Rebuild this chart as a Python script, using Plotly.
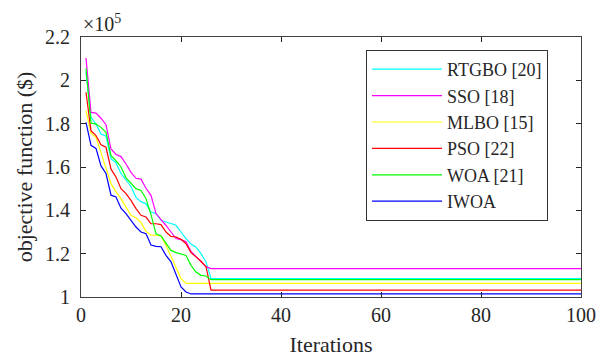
import plotly.graph_objects as go

# Iterations at which values were read (curves are flat after ~26)
iterations = list(range(1, 27)) + [100]

# Objective function values in units of 1e5 $
rtgbo = [2.04, 1.829, 1.798, 1.752, 1.742, 1.637, 1.62, 1.57, 1.54, 1.51, 1.46, 1.44, 1.43,
         1.392, 1.385, 1.354, 1.346, 1.34, 1.331, 1.30, 1.269, 1.245, 1.23, 1.20, 1.162, 1.085, 1.085]
sso = [2.103, 1.852, 1.849, 1.825, 1.795, 1.683, 1.658, 1.648, 1.614, 1.575, 1.548, 1.544, 1.502,
       1.469, 1.385, 1.36, 1.33, 1.30, 1.27, 1.265, 1.255, 1.21, 1.185, 1.165, 1.14, 1.131, 1.131]
mlbo = [1.86, 1.755, 1.737, 1.668, 1.59, 1.523, 1.485, 1.454, 1.415, 1.377, 1.366, 1.343, 1.303,
        1.285, 1.285, 1.282, 1.238, 1.189, 1.138, 1.085, 1.063, 1.063, 1.063, 1.063, 1.063, 1.063, 1.063]
pso = [1.945, 1.768, 1.745, 1.702, 1.691, 1.59, 1.554, 1.50, 1.477, 1.446, 1.408, 1.377, 1.369,
       1.338, 1.338, 1.334, 1.30, 1.28, 1.277, 1.266, 1.246, 1.205, 1.185, 1.165, 1.14, 1.032, 1.032]
woa = [2.055, 1.803, 1.798, 1.783, 1.76, 1.652, 1.629, 1.60, 1.55, 1.525, 1.50, 1.492, 1.454,
       1.38, 1.292, 1.282, 1.246, 1.215, 1.205, 1.20, 1.192, 1.146, 1.115, 1.10, 1.097, 1.08, 1.08]
iwoa = [1.806, 1.70, 1.686, 1.605, 1.57, 1.47, 1.462, 1.41, 1.385, 1.354, 1.323, 1.30, 1.292,
        1.24, 1.234, 1.232, 1.192, 1.162, 1.10, 1.046, 1.023, 1.014, 1.014, 1.014, 1.014, 1.014, 1.014]

series_names = ["RTGBO [20]", "SSO [18]", "MLBO [15]", "PSO [22]", "WOA [21]", "IWOA"]
series_values = [rtgbo, sso, mlbo, pso, woa, iwoa]
series_colors = ["#00FFFF", "#FF00FF", "#FFFF00", "#FF0000", "#00FF00", "#0000FF"]

x_ticks = [0, 20, 40, 60, 80, 100]
y_ticks = [1, 1.2, 1.4, 1.6, 1.8, 2, 2.2]
y_tick_labels = ["1", "1.2", "1.4", "1.6", "1.8", "2", "2.2"]

FONT = "Liberation Serif"
TXT = "#262626"

fig = go.Figure()
for name, vals, col in zip(series_names, series_values, series_colors):
    fig.add_trace(go.Scatter(x=iterations, y=vals, mode="lines", name=name,
                             line=dict(color=col, width=1.2)))

fig.update_layout(
    width=597, height=360,
    margin=dict(l=81, r=16, t=37, b=63, autoexpand=False),
    paper_bgcolor="white", plot_bgcolor="white",
    font=dict(family=FONT, size=20, color=TXT),
    showlegend=True,
    legend=dict(x=0.57, y=0.95, xanchor="left", yanchor="top",
                bgcolor="white", bordercolor="#333333", borderwidth=1,
                font=dict(family=FONT, size=18, color=TXT),
                itemwidth=70, tracegroupgap=0),
    annotations=[dict(text="×10<sup>5</sup>", xref="paper", yref="paper", x=0, y=1,
                      xanchor="left", yanchor="bottom", showarrow=False,
                      font=dict(family=FONT, size=20, color=TXT))],
)
fig.update_xaxes(range=[0, 100], tickvals=x_ticks, ticks="inside", ticklen=5,
                 tickcolor="#222222", showline=True, linecolor="#404040", linewidth=1,
                 mirror="ticks", showgrid=False, zeroline=False, automargin=False,
                 title=dict(text="Iterations", font=dict(family=FONT, size=22, color=TXT), standoff=11))
fig.update_yaxes(range=[1, 2.2], tickvals=y_ticks, ticktext=y_tick_labels, ticks="inside",
                 ticklen=5, tickcolor="#222222", showline=True, linecolor="#404040",
                 linewidth=1, mirror="ticks", showgrid=False, zeroline=False, automargin=False,
                 ticklabelstandoff=6,
                 title=dict(text="objective function ($)", font=dict(family=FONT, size=22, color=TXT),
                            standoff=6))

fig.write_html("out.html", config={"displayModeBar": False},
               post_script="document.body.style.margin='0px';document.body.style.padding='0px';")
